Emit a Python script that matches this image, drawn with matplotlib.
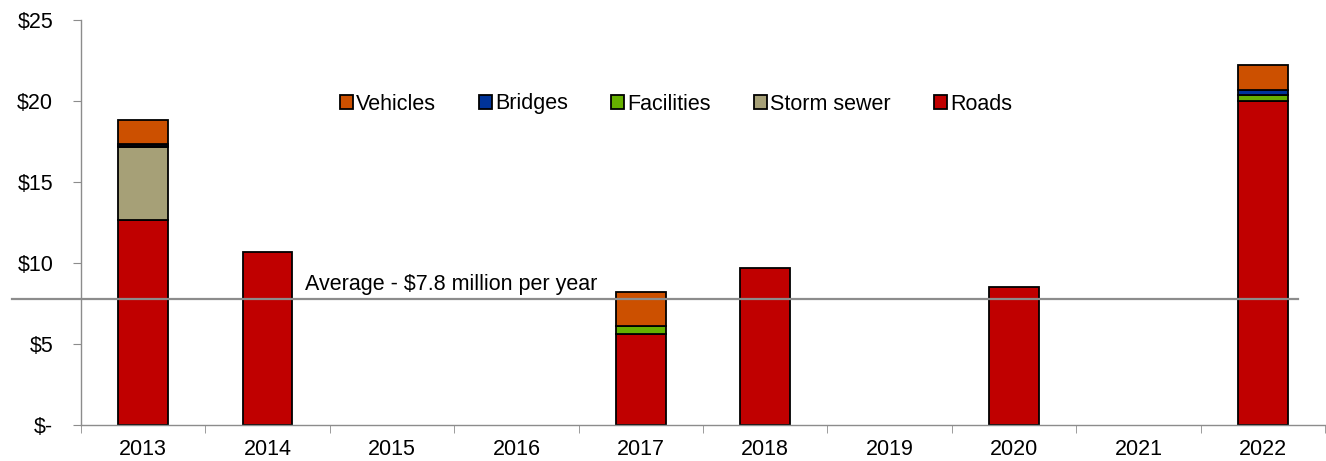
import matplotlib
matplotlib.use("Agg")
import matplotlib.pyplot as plt
import numpy as np

plt.rcParams['font.family'] = ['Liberation Sans', 'DejaVu Sans']

years = ["2013", "2014", "2015", "2016", "2017", "2018", "2019", "2020", "2021", "2022"]
roads = [12.65, 10.7, 0, 0, 5.6, 9.7, 0, 8.5, 0, 20.0]
storm_sewer = [4.5, 0, 0, 0, 0, 0, 0, 0, 0, 0]
facilities = [0.1, 0, 0, 0, 0.5, 0, 0, 0, 0, 0.35]
bridges = [0.1, 0, 0, 0, 0, 0, 0, 0, 0, 0.3]
vehicles = [1.5, 0, 0, 0, 2.1, 0, 0, 0, 0, 1.55]
average = 7.8

series = [
    ("Roads", roads, "#C00000"),
    ("Storm sewer", storm_sewer, "#A6A077"),
    ("Facilities", facilities, "#66B000"),
    ("Bridges", bridges, "#003399"),
    ("Vehicles", vehicles, "#CC5000"),
]

FS = 15.5

fig = plt.figure(figsize=(13.26, 4.61), dpi=100)
ax = fig.add_axes([81/1326, 36/461, 1244/1326, 405/461])

x = np.arange(len(years))
bottom = np.zeros(len(years))
handles = {}
for name, vals, color in series:
    vals = np.array(vals, dtype=float)
    mask = vals > 0
    b = ax.bar(x[mask], vals[mask], bottom=bottom[mask], width=0.4, color=color,
               edgecolor="black", linewidth=1.3, label=name, zorder=2)
    handles[name] = b
    bottom += vals

ax.set_xlim(-0.5, len(years) - 0.5)
ax.set_ylim(0, 25)
ax.set_yticks([0, 5, 10, 15, 20, 25])
ax.set_yticklabels(["$-", "$5", "$10", "$15", "$20", "$25"])
ax.set_xticks(x)
ax.set_xticklabels(years)
ax.set_xticks(np.arange(-0.5, len(years) + 0.5, 1), minor=True)
ax.tick_params(axis="x", which="major", length=0, pad=10, labelsize=FS)
ax.tick_params(axis="x", which="minor", length=6, color="#8c8c8c", direction="out")
ax.tick_params(axis="y", length=6, color="#8c8c8c", labelsize=FS, pad=14)

for side in ["top", "right"]:
    ax.spines[side].set_visible(False)
for side in ["left", "bottom"]:
    ax.spines[side].set_color("#8c8c8c")
    ax.spines[side].set_linewidth(1.0)

# average line across the years, extending past the value axis
ax.axhline(average, xmin=-0.0555, xmax=0.978, color="#8c8c8c", linewidth=1.6,
           clip_on=False, zorder=3)
ax.text(1.30, 8.33, "Average - $7.8 million per year", fontsize=FS,
        ha="left", va="baseline", color="black")

order = ["Vehicles", "Bridges", "Facilities", "Storm sewer", "Roads"]
leg = ax.legend([handles[n] for n in order], order, ncol=5, frameon=False,
                loc="center", bbox_to_anchor=(676/1326, 1 - 104/461),
                bbox_transform=fig.transFigure, fontsize=FS,
                handlelength=0.6, handleheight=0.6, handletextpad=0.15,
                columnspacing=2.0)

fig.savefig("out.png", dpi=100)
